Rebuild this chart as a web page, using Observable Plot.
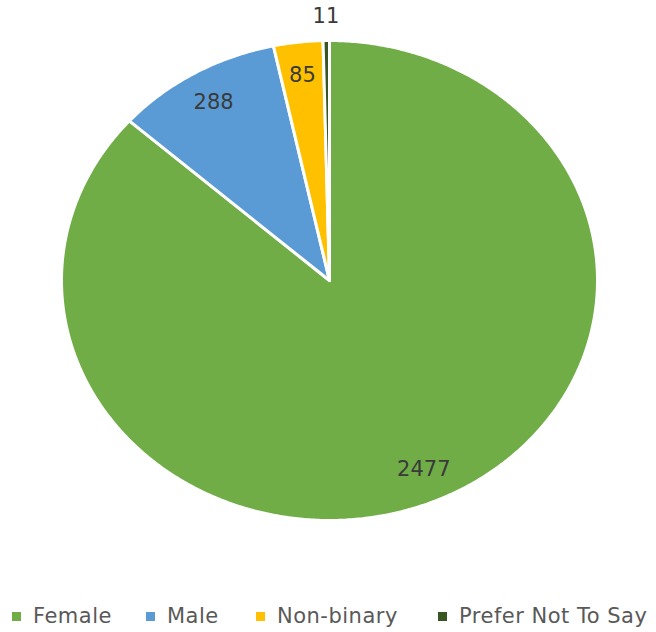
<!DOCTYPE html>
<html>
<head>
<meta charset="utf-8">
<script src="https://cdn.jsdelivr.net/npm/d3@7"></script>
<script src="https://cdn.jsdelivr.net/npm/@observablehq/plot@0.6"></script>
<style>
  html, body { margin: 0; padding: 0; background: #fff; }
  #wrap { position: relative; width: 656px; height: 632px; }
  #legend { position: absolute; left: 0; top: 600px; width: 656px; height: 32px;
            font-family: "DejaVu Sans", sans-serif; font-size: 21px; letter-spacing: 0.5px; color: #595959; }
  .item { position: absolute; top: 0; height: 32px; display: flex; align-items: center; white-space: nowrap; }
  .sw { width: 9px; height: 9px; display: inline-block; margin-right: 12px; }
</style>
</head>
<body>
<div id="wrap"><div id="chart"></div><div id="legend"></div></div>
<script>
const categories = ["Female", "Male", "Non-binary", "Prefer Not To Say"];
const values = [2477, 288, 85, 11];
const colors = ["#70AD47", "#5B9BD5", "#FFC000", "#375623"];

const data = categories.map((name, i) => ({name, value: values[i]}));
const pie = d3.pie().sort(null).value(d => d.value)(data);

// polygon points for each slice (angles clockwise from 12 o'clock)
const pts = [];
for (const a of pie) {
  const n = Math.max(2, Math.ceil((a.endAngle - a.startAngle) / (Math.PI / 360)));
  pts.push({name: a.data.name, x: 0, y: 0});
  for (let k = 0; k <= n; k++) {
    const t = a.startAngle + (a.endAngle - a.startAngle) * k / n;
    pts.push({name: a.data.name, x: Math.sin(t), y: Math.cos(t)});
  }
  pts.push({name: a.data.name, x: 0, y: 0});
}

const total = d3.sum(values);
const labels = pie.map(a => {
  const m = (a.startAngle + a.endAngle) / 2;
  const r = a.data.value / total < 0.01 ? 1.1 : 0.86;
  return {name: a.data.name, value: a.data.value, x: Math.sin(m) * r, y: Math.cos(m) * r};
});

const chart = Plot.plot({
  width: 656,
  height: 600,
  margin: 0,
  x: {domain: [-1, 1], range: [61, 597], axis: null},
  y: {domain: [-1, 1], range: [520, 40], axis: null},
  color: {domain: categories, range: colors},
  marks: [
    Plot.line(pts, {x: "x", y: "y", z: "name", fill: "name", stroke: "white",
                    strokeWidth: 3, strokeLinejoin: "round", curve: "linear"}),
    Plot.text(labels, {x: "x", y: "y", text: d => String(d.value), fill: "#3a3a3a",
                       fontSize: 21, fontFamily: "DejaVu Sans"})
  ],
  style: {background: "white"}
});
document.getElementById("chart").appendChild(chart);

const legendX = [12, 146, 256, 438];
const leg = document.getElementById("legend");
categories.forEach((c, i) => {
  const it = document.createElement("div");
  it.className = "item";
  it.style.left = legendX[i] + "px";
  it.innerHTML = `<span class="sw" style="background:${colors[i]}"></span><span>${c}</span>`;
  leg.appendChild(it);
});
</script>
</body>
</html>
